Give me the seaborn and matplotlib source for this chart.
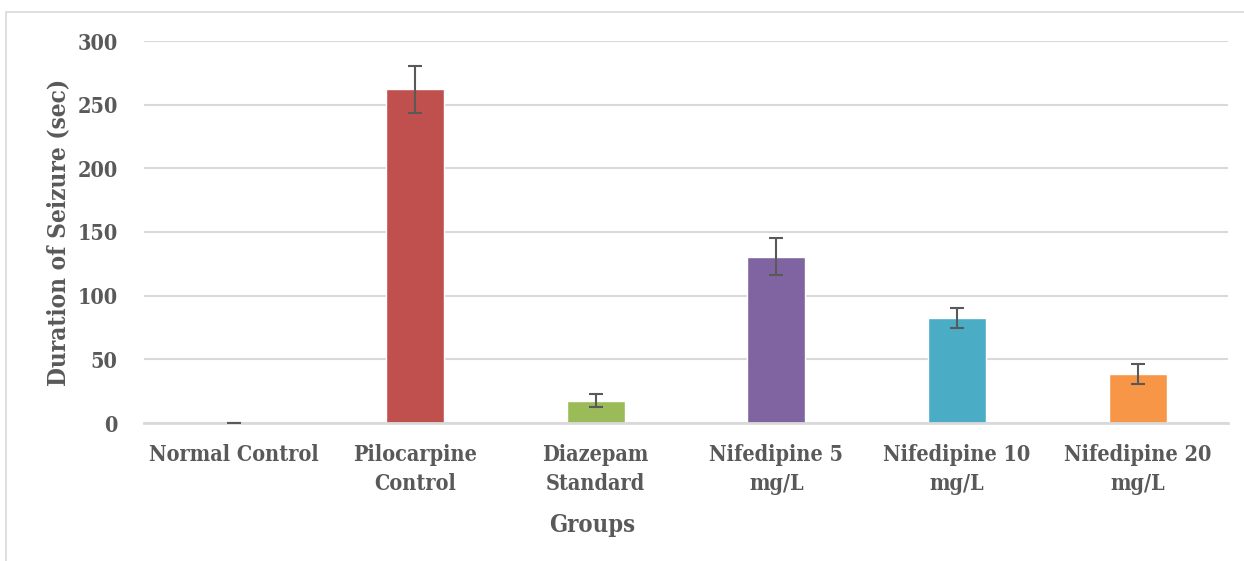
import matplotlib.pyplot as plt
import pandas as pd
import seaborn as sns
from matplotlib.patches import Rectangle

groups = [
    "Normal Control",
    "Pilocarpine\nControl",
    "Diazepam\nStandard",
    "Nifedipine 5\nmg/L",
    "Nifedipine 10\nmg/L",
    "Nifedipine 20\nmg/L",
]
duration = [0.0, 262, 17.5, 130.5, 82.5, 38.5]
sem = [0.3, 18.5, 5, 14.5, 8, 8]
colors = ["#4F81BD", "#C0504D", "#9BBB59", "#8064A2", "#4BACC6", "#F79646"]

sns.set_style("white")
plt.rcParams["font.family"] = ["DejaVu Serif"]
text_color = "#595959"
font = dict(family="DejaVu Serif", weight="bold", stretch="condensed", color=text_color)

df = pd.DataFrame({"group": groups, "duration": duration})

fig = plt.figure(figsize=(12.44, 5.61), dpi=100)
ax = fig.add_axes([144 / 1244, 138 / 561, 1084 / 1244, 382 / 561])

sns.barplot(
    data=df,
    x="group",
    y="duration",
    hue="group",
    palette=colors,
    saturation=1,
    width=0.32,
    dodge=False,
    legend=False,
    errorbar=None,
    ax=ax,
    zorder=2,
)
ax.errorbar(
    range(len(groups)),
    duration,
    yerr=sem,
    fmt="none",
    ecolor="#595959",
    elinewidth=1.5,
    capsize=5,
    capthick=1.5,
    zorder=3,
)

ax.set_xlim(-0.5, len(groups) - 0.5)
ax.set_ylim(0, 300)
ax.set_yticks(range(0, 301, 50))
ax.grid(axis="y", color="#D9D9D9", linewidth=1.5, zorder=0)
ax.set_axisbelow(True)
for side in ["top", "right", "left"]:
    ax.spines[side].set_visible(False)
ax.spines["bottom"].set_color("#D9D9D9")
ax.spines["bottom"].set_linewidth(2)
ax.tick_params(axis="both", length=0)
ax.tick_params(axis="y", pad=19)
ax.tick_params(axis="x", pad=15)
for lab in ax.get_yticklabels() + ax.get_xticklabels():
    lab.set_fontfamily("DejaVu Serif")
    lab.set_fontweight("bold")
    lab.set_fontstretch("condensed")
    lab.set_fontsize(15.5)
    lab.set_color(text_color)
for lab in ax.get_xticklabels():
    lab.set_linespacing(1.45)

ax.set_xlabel("Groups", fontsize=17, **font)
ax.xaxis.set_label_coords((592 - 144) / 1084, -0.235)
ax.set_ylabel("Duration of Seizure (sec)", fontsize=17.5, **font)
ax.yaxis.set_label_coords(-(144 - 70) / 1084, 0.5)

fig.patches.append(
    Rectangle((6 / 1244, -0.05), 1.1, 1 - 12 / 561 + 0.05,
              transform=fig.transFigure, fill=False, edgecolor="#D9D9D9",
              linewidth=1.2, zorder=0)
)

fig.savefig("out.png", dpi=100)
